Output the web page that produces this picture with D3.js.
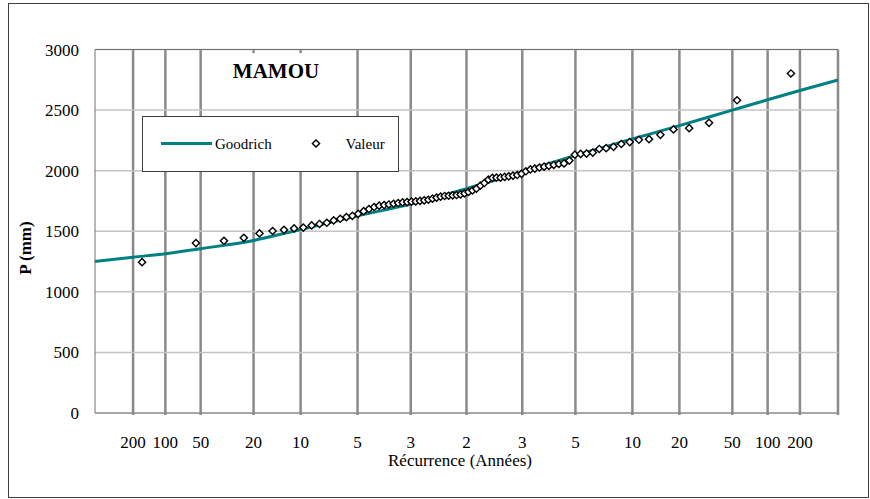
<!DOCTYPE html>
<html><head><meta charset="utf-8">
<script src="https://cdn.jsdelivr.net/npm/d3@7"></script>
<style>
body{margin:0;background:#fff}
svg{display:block}
text{font-family:"Liberation Serif","Times New Roman",serif;fill:#000}
</style>
</head><body>
<svg id="c" width="870" height="499"></svg>
<script>
// ---------- data ----------
const chartTitle = "MAMOU";
const yTicks = [0, 500, 1000, 1500, 2000, 2500, 3000];
const dryReturnPeriods = [200, 100, 50, 20, 10, 5, 3, 2];   // left of median (non-exceedance 1/T)
const wetReturnPeriods = [3, 5, 10, 20, 50, 100, 200];      // right of median (non-exceedance 1-1/T)
// observed annual rainfall (mm), sorted ascending (82 years)
const observed = [1245,1402,1421,1446,1482,1502,1512,1523,1530,1548,
  1560,1570,1589,1603,1617,1627,1644,1666,1683,1700,
  1711,1716,1721,1727,1733,1738,1741,1744,1746,1750,
  1755,1760,1769,1777,1785,1791,1793,1796,1799,1804,
  1812,1824,1837,1851,1876,1898,1926,1940,1942,1942,
  1948,1953,1959,1964,1974,1995,2010,2017,2026,2033,
  2040,2047,2055,2060,2083,2132,2138,2141,2149,2179,
  2186,2197,2220,2236,2255,2260,2296,2340,2351,2395,
  2581,2802];
// Goodrich fitted curve: non-exceedance frequency -> value
const goodrichFreq  = [0.00205,0.005,0.01,0.02,0.05,0.1,0.2,0.3333,0.5,0.6667,0.8,0.9,0.95,0.98,0.99,0.995,0.99795];
const goodrichValue = [1250,1286,1315,1356,1424,1515,1627,1725,1852,1990,2126,2261,2372,2500,2585,2662,2748];

// ---------- helpers ----------
function probit(p){
  const a=[-3.969683028665376e+01,2.209460984245205e+02,-2.759285104469687e+02,1.383577518672690e+02,-3.066479806614716e+01,2.506628277459239e+00];
  const b=[-5.447609879822406e+01,1.615858368580409e+02,-1.556989798598866e+02,6.680131188771972e+01,-1.328068155288572e+01];
  const c=[-7.784894002430293e-03,-3.223964580411365e-01,-2.400758277161838e+00,-2.549732539343734e+00,4.374664141464968e+00,2.938163982698783e+00];
  const d=[7.784695709041462e-03,3.224671290700398e-01,2.445134137142996e+00,3.754408661907416e+00];
  const pl=0.02425, ph=1-pl; let q,r;
  if(p<pl){q=Math.sqrt(-2*Math.log(p));return (((((c[0]*q+c[1])*q+c[2])*q+c[3])*q+c[4])*q+c[5])/((((d[0]*q+d[1])*q+d[2])*q+d[3])*q+1);}
  if(p<=ph){q=p-0.5;r=q*q;return (((((a[0]*r+a[1])*r+a[2])*r+a[3])*r+a[4])*r+a[5])*q/(((((b[0]*r+b[1])*r+b[2])*r+b[3])*r+b[4])*r+1);}
  q=Math.sqrt(-2*Math.log(1-p));return -(((((c[0]*q+c[1])*q+c[2])*q+c[3])*q+c[4])*q+c[5])/((((d[0]*q+d[1])*q+d[2])*q+d[3])*q+1);
}

// ---------- layout ----------
const svg = d3.select("#c");
const L = 95, R = 838, T = 49.5, B = 413;
const x = d3.scaleLinear().domain([-2.87, 2.87]).range([L, R]);
const y = d3.scaleLinear().domain([0, 3000]).range([B, T]);

// outer frame
svg.append("rect").attr("x",8.5).attr("y",3.5).attr("width",860).attr("height",494)
  .attr("fill","#fff").attr("stroke","#404040").attr("stroke-width",1);

// vertical grid lines (return periods)
const gridDefs = dryReturnPeriods.map(t => ({t, z: probit(1/t)}))
  .concat(wetReturnPeriods.map(t => ({t, z: probit(1 - 1/t)})));
svg.append("g").selectAll("line").data(gridDefs).join("line")
  .attr("x1", d => x(d.z)).attr("x2", d => x(d.z))
  .attr("y1", T).attr("y2", B + 2)
  .attr("stroke", "#8a8a8a").attr("stroke-width", 2.5);
// right edge
svg.append("line").attr("x1",R).attr("x2",R).attr("y1",T).attr("y2",B+2)
  .attr("stroke","#8a8a8a").attr("stroke-width",2.5);

// title box (covers vertical lines)
svg.append("rect").attr("x",205).attr("y",53).attr("width",146).attr("height",63).attr("fill","#fff");

// horizontal grid lines
svg.append("g").selectAll("line").data(yTicks.filter(v => v > 0)).join("line")
  .attr("x1", L).attr("x2", R)
  .attr("y1", d => y(d)).attr("y2", d => y(d))
  .attr("stroke", "#c4c4c4").attr("stroke-width", 1.5);

// plot frame
svg.append("line").attr("x1",L).attr("x2",L).attr("y1",T).attr("y2",B).attr("stroke","#707070").attr("stroke-width",1);
svg.append("line").attr("x1",L).attr("x2",R).attr("y1",T).attr("y2",T).attr("stroke","#707070").attr("stroke-width",1);
svg.append("line").attr("x1",L).attr("x2",R+1).attr("y1",B).attr("y2",B).attr("stroke","#8a8a8a").attr("stroke-width",1.5);

// y tick labels
svg.append("g").selectAll("text").data(yTicks).join("text")
  .attr("x", 79).attr("y", d => y(d) + 6)
  .attr("text-anchor","end").attr("font-size",17).text(d => d);

// x tick labels
svg.append("g").selectAll("text").data(gridDefs).join("text")
  .attr("x", d => x(d.z)).attr("y", 448)
  .attr("text-anchor","middle").attr("font-size",17).text(d => d.t);

// axis titles
svg.append("text").attr("x",460).attr("y",466).attr("text-anchor","middle")
  .attr("font-size",17).text("Récurrence (Années)");
svg.append("text").attr("transform","translate(31,248) rotate(-90)").attr("text-anchor","middle")
  .attr("font-size",17).attr("font-weight","bold").text("P (mm)");

// chart title
svg.append("text").attr("x",276).attr("y",77.5).attr("text-anchor","middle")
  .attr("font-size",21).attr("font-weight","bold").text(chartTitle);

// Goodrich curve
const curvePts = goodrichFreq.map((f,i) => [probit(f), goodrichValue[i]]);
svg.append("path").datum(curvePts)
  .attr("d", d3.line().x(d => x(d[0])).y(d => y(d[1])).curve(d3.curveMonotoneX))
  .attr("fill","none").attr("stroke","#008080").attr("stroke-width",3);

// observed points (Hazen plotting positions)
const N = observed.length;
const diamond = d3.symbol().type(d3.symbolSquare).size(26);
svg.append("g").selectAll("path").data(observed).join("path")
  .attr("d", diamond)
  .attr("transform", (v,i) => `translate(${x(probit((i + 0.5) / N))},${y(v)}) rotate(45)`)
  .attr("fill","#fff").attr("stroke","#000").attr("stroke-width",1.4);

// legend
const lg = svg.append("g");
lg.append("rect").attr("x",142.5).attr("y",116.5).attr("width",256).attr("height",55)
  .attr("fill","#fff").attr("stroke","#404040").attr("stroke-width",1);
lg.append("line").attr("x1",161).attr("x2",212).attr("y1",143.5).attr("y2",143.5)
  .attr("stroke","#008080").attr("stroke-width",3);
lg.append("text").attr("x",215).attr("y",148.5).attr("font-size",15).text("Goodrich");
lg.append("path").attr("d",diamond).attr("transform","translate(316,143.5) rotate(45)")
  .attr("fill","#fff").attr("stroke","#000").attr("stroke-width",1.4);
lg.append("text").attr("x",345.5).attr("y",148.5).attr("font-size",15).text("Valeur");
</script>
</body></html>
